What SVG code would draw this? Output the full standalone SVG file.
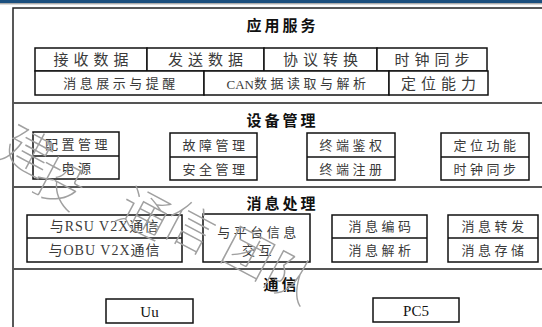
<svg xmlns="http://www.w3.org/2000/svg" width="542" height="327" viewBox="0 0 542 327">
<style>
.bg{fill:#fff}
.frame{fill:none;stroke:#222;stroke-width:1.5}
.div{stroke:#555;stroke-width:1.8}
.box{fill:#fff;stroke:#111;stroke-width:1.5}
.t{font-family:"Liberation Serif","Noto Sans CJK SC",serif;fill:#3a3a3a;text-anchor:middle;dominant-baseline:central}
.t15{font-size:15px;letter-spacing:5px}
.t13{font-size:13px;letter-spacing:3.5px}
.t14{font-size:14px;letter-spacing:1px}
.title{font-family:"Noto Sans CJK SC",sans-serif;font-size:15px;font-weight:bold;fill:#111;text-anchor:middle;dominant-baseline:central;letter-spacing:3px}
.lat{font-family:"Liberation Serif",serif;font-size:15px;fill:#111;text-anchor:middle;dominant-baseline:central}
.wm{font-family:"Noto Sans CJK SC",sans-serif;font-size:50px;font-weight:100;fill:#a0a0a0;text-anchor:middle;dominant-baseline:central}
</style>
<rect class="bg" x="0" y="0" width="542" height="327"/>
<rect x="0" y="0" width="542" height="3" fill="#1b4f7e"/>
<line x1="0" y1="3.8" x2="542" y2="3.8" stroke="#888" stroke-width="1"/>
<g id="frame">
<polyline class="frame" points="542,8 13,8 13,327"/>
<line class="div" x1="13" y1="103" x2="542" y2="103"/>
<line class="div" x1="13" y1="187" x2="542" y2="187"/>
<line class="div" x1="13" y1="269" x2="542" y2="269"/>
</g>
<g id="connectors"/>
<g id="app-service">
<text class="title" x="282.5" y="24">应用服务</text>
<rect class="box" x="35" y="48" width="112" height="23"/>
<rect class="box" x="147" y="48" width="117" height="23"/>
<rect class="box" x="264" y="48" width="113" height="23"/>
<rect class="box" x="377" y="48" width="110" height="23"/>
<rect class="box" x="35" y="71" width="169" height="24"/>
<rect class="box" x="204" y="71" width="185" height="24"/>
<rect class="box" x="389" y="71" width="99" height="24"/>
<text class="t t15" x="93.5" y="60">接收数据</text>
<text class="t t15" x="208" y="60">发送数据</text>
<text class="t t15" x="323" y="60">协议转换</text>
<text class="t t15" x="434.5" y="60">时钟同步</text>
<text class="t t13" x="121" y="83.5">消息展示与提醒</text>
<text class="t t13" x="298" y="83.5"><tspan letter-spacing="0">CAN</tspan>数据读取与解析</text>
<text class="t t15" x="441" y="83.5">定位能力</text>
</g>
<g id="device-mgmt">
<text class="title" x="282.5" y="119.5">设备管理</text>
<g id="dm-a">
<rect class="box" x="33" y="132" width="86" height="47"/>
<line class="box" x1="33" y1="156" x2="119" y2="156"/>
<text class="t t13" x="78" y="144">配置管理</text>
<text class="t t13" x="78" y="168">电源</text>
</g>
<g id="dm-b">
<rect class="box" x="170" y="133" width="87" height="47"/>
<line class="box" x1="170" y1="157" x2="257" y2="157"/>
<text class="t t13" x="215.5" y="145">故障管理</text>
<text class="t t13" x="215.5" y="169">安全管理</text>
</g>
<g id="dm-c">
<rect class="box" x="307" y="133" width="88" height="47"/>
<line class="box" x1="307" y1="157" x2="395" y2="157"/>
<text class="t t13" x="352.5" y="145">终端鉴权</text>
<text class="t t13" x="352.5" y="169">终端注册</text>
</g>
<g id="dm-d">
<rect class="box" x="441" y="133" width="88" height="47"/>
<line class="box" x1="441" y1="157" x2="529" y2="157"/>
<text class="t t13" x="486.5" y="145">定位功能</text>
<text class="t t13" x="486.5" y="169">时钟同步</text>
</g>
</g>
<g id="msg-proc">
<text class="title" x="282.5" y="202.5">消息处理</text>
<g id="mp-a">
<rect class="box" x="27" y="215" width="155" height="47"/>
<line class="box" x1="27" y1="238" x2="182" y2="238"/>
<text class="t t14" x="104.5" y="226.5">与RSU V2X通信</text>
<text class="t t14" x="104.5" y="250">与OBU V2X通信</text>
</g>
<g id="mp-b">
<rect class="box" x="203" y="214" width="107" height="48"/>
<text class="t t13" x="258.5" y="232.5">与平台信息</text>
<text class="t t13" x="258.5" y="250">交互</text>
</g>
<g id="mp-c">
<rect class="box" x="332" y="215" width="95" height="47"/>
<line class="box" x1="332" y1="238" x2="427" y2="238"/>
<text class="t t13" x="381.5" y="226.5">消息编码</text>
<text class="t t13" x="381.5" y="250">消息解析</text>
</g>
<g id="mp-d">
<rect class="box" x="448" y="215" width="90" height="47"/>
<line class="box" x1="448" y1="238" x2="538" y2="238"/>
<text class="t t13" x="494.5" y="226.5">消息转发</text>
<text class="t t13" x="494.5" y="250">消息存储</text>
</g>
</g>
<g id="comm">
<text class="title" x="281.5" y="283.5">通信</text>
<g id="uu">
<rect class="box" x="106" y="299" width="87" height="24"/>
<text class="lat" x="149.5" y="311.5">Uu</text>
</g>
<g id="pc5">
<rect class="box" x="373" y="298" width="86" height="24"/>
<text class="lat" x="416" y="310.5">PC5</text>
</g>
</g>
<g id="watermark">
<text class="wm" transform="translate(30,148) rotate(28)">建</text>
<text class="wm" transform="translate(62,180) rotate(28)">投</text>
<text class="wm" transform="translate(146,210) rotate(28)">通</text>
<text class="wm" transform="translate(192,224) rotate(28)">信</text>
<text class="wm" transform="translate(250,250) rotate(28)">团</text>
<text class="wm" transform="translate(292,274) rotate(28)">队</text>
</g>
</svg>
